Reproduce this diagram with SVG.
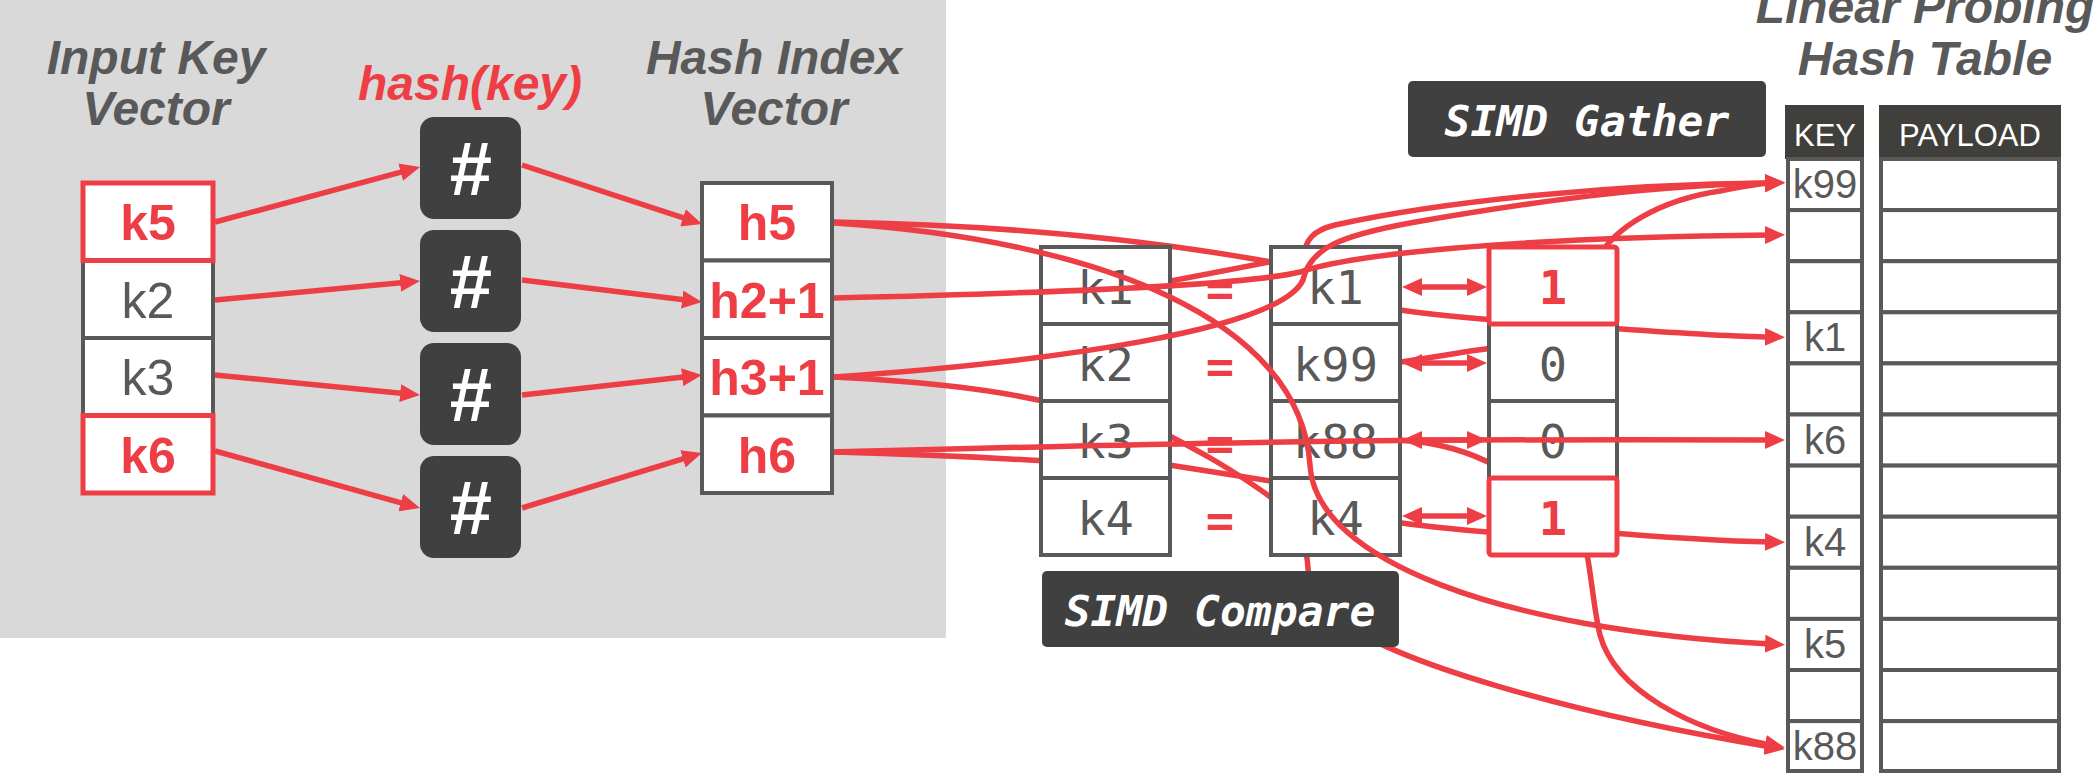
<svg xmlns="http://www.w3.org/2000/svg" width="2098" height="774" viewBox="0 0 2098 774">
<defs>
<style>
.ttl{font-family:"Liberation Sans",Arial,sans-serif;font-weight:bold;font-style:italic;font-size:48px;fill:#595959;text-anchor:middle}
.cell{fill:#fff;stroke:#595959;stroke-width:4}
.rcell{fill:#fff;stroke:#EE3E45;stroke-width:5}
.hb{fill:#404040}
.vt{font-family:"Liberation Sans",Arial,sans-serif;font-size:50px;text-anchor:middle;fill:#595959}
.vb{font-weight:bold;fill:#EE3E45}
.hash{font-family:"Liberation Sans",Arial,sans-serif;font-weight:bold;font-size:76px;fill:#fff;text-anchor:middle}
.mono{font-family:"DejaVu Sans Mono","Liberation Mono",monospace;font-size:47px;text-anchor:middle;fill:#595959}
.mb{font-weight:bold;fill:#EE3E45}
.lbl{font-family:"DejaVu Sans Mono","Liberation Mono",monospace;font-weight:bold;font-style:italic;font-size:43px;fill:#fff;text-anchor:middle}
.tk{font-family:"Liberation Sans",Arial,sans-serif;font-size:40px;fill:#595959;text-anchor:middle}
.th{font-family:"Liberation Sans",Arial,sans-serif;font-size:31px;fill:#fff;text-anchor:middle}
.hdr{fill:#403F3C}
.ln{fill:none;stroke:#EE3E45;stroke-width:5.5}
.arr{marker-end:url(#ah)}
.dbl{marker-start:url(#ah);marker-end:url(#ah)}
</style>
<marker id="ah" viewBox="0 0 20 18" markerWidth="20" markerHeight="18" refX="6" refY="9" orient="auto-start-reverse" markerUnits="userSpaceOnUse"><path d="M0,0 L20,9 L0,18 z" fill="#EE3E45"/></marker>
</defs>

<rect id="background" x="0" y="0" width="946" height="638" fill="#D9D9D9"/>

<g id="titles">
<text class="ttl" x="156" y="74">Input Key</text>
<text class="ttl" x="156" y="125">Vector</text>
<text class="ttl" x="470" y="100" style="fill:#EE3E45">hash(key)</text>
<text class="ttl" x="774" y="74">Hash Index</text>
<text class="ttl" x="774" y="125">Vector</text>
<text class="ttl" x="1925" y="23">Linear Probing</text>
<text class="ttl" x="1925" y="75">Hash Table</text>
</g>

<g id="connectors-hash">
<path class="ln arr" d="M215,222 L406.5,170.6"/>
<path class="ln arr" d="M215,300 L406.1,282.3"/>
<path class="ln arr" d="M215,375 L406.1,393.7"/>
<path class="ln arr" d="M215,451 L406.5,504.3"/>
<path class="ln arr" d="M522,165 L688.7,219.7"/>
<path class="ln arr" d="M522,280 L688.1,300.3"/>
<path class="ln arr" d="M522,395 L688.1,376.5"/>
<path class="ln arr" d="M522,508 L688.6,457.1"/>
</g>

<g id="in-k2"><rect class="cell" x="83" y="260.5" width="130" height="77.5"/><text class="vt" x="148" y="317.5">k2</text></g>
<g id="in-k3"><rect class="cell" x="83" y="338" width="130" height="77.5"/><text class="vt" x="148" y="395">k3</text></g>
<g id="in-k5"><rect class="rcell" x="83" y="183" width="130" height="77.5"/><text class="vt vb" x="148" y="240">k5</text></g>
<g id="in-k6"><rect class="rcell" x="83" y="415.5" width="130" height="77.5"/><text class="vt vb" x="148" y="472.5">k6</text></g>

<g id="hash-1"><rect class="hb" x="420" y="117" width="101" height="102" rx="14"/><text class="hash" x="471" y="195">#</text></g>
<g id="hash-2"><rect class="hb" x="420" y="230" width="101" height="102" rx="14"/><text class="hash" x="471" y="308">#</text></g>
<g id="hash-3"><rect class="hb" x="420" y="343" width="101" height="102" rx="14"/><text class="hash" x="471" y="421">#</text></g>
<g id="hash-4"><rect class="hb" x="420" y="456" width="101" height="102" rx="14"/><text class="hash" x="471" y="534">#</text></g>

<g id="hi-h5"><rect class="cell" x="702" y="183" width="130" height="77.5"/><text class="vt vb" x="767" y="240">h5</text></g>
<g id="hi-h2"><rect class="cell" x="702" y="260.5" width="130" height="77.5"/><text class="vt vb" x="767" y="317.5">h2+1</text></g>
<g id="hi-h3"><rect class="cell" x="702" y="338" width="130" height="77.5"/><text class="vt vb" x="767" y="395">h3+1</text></g>
<g id="hi-h6"><rect class="cell" x="702" y="415.5" width="130" height="77.5"/><text class="vt vb" x="767" y="472.5">h6</text></g>

<g id="connectors-under">
<path class="ln arr" d="M834,222 C1000,225 1150,240 1271,262 C1330,273 1370,300 1400,310 C1440,316 1480,319 1520,322 C1620,328 1700,336 1771,337"/>
<path class="ln" d="M1150,285 L1290,258"/>
<path class="ln arr" d="M1303,262 C1304,238 1315,230 1335,225 C1450,200 1620,184 1771,183"/>
<path class="ln" d="M834,377 C930,382 1000,390 1060,405"/>
<path class="ln" d="M1150,426 C1190,446 1240,472 1290,512 C1303,530 1308,550 1309,585"/>
<path class="ln arr" d="M1340,620 C1390,660 1560,712 1771,747"/>
<path class="ln" d="M834,452 C950,455 1000,458 1060,462"/>
<path class="ln" d="M1150,462 C1200,470 1240,476 1290,484"/>
<path class="ln" d="M1380,520 C1420,526 1460,530 1500,533"/>
<path class="ln arr" d="M1600,532 C1660,537 1720,541 1771,542"/>
<path class="ln arr" d="M1596,262 C1612,228 1660,200 1720,191 C1740,187 1755,184 1771,183"/>
<path class="ln" d="M1500,347 C1460,352 1430,358 1395,363"/>
<path class="ln" d="M1500,468 C1470,452 1440,442 1395,440"/>
<path class="ln arr" d="M1586,548 C1592,580 1594,610 1600,635 C1615,690 1690,730 1771,745"/>
</g>

<g id="cmp-left-k1"><rect class="cell" x="1041" y="247" width="129" height="77"/><text class="mono" x="1105.5" y="304">k1</text></g>
<g id="cmp-left-k2"><rect class="cell" x="1041" y="324" width="129" height="77"/><text class="mono" x="1105.5" y="381">k2</text></g>
<g id="cmp-left-k3"><rect class="cell" x="1041" y="401" width="129" height="77"/><text class="mono" x="1105.5" y="458">k3</text></g>
<g id="cmp-left-k4"><rect class="cell" x="1041" y="478" width="129" height="77"/><text class="mono" x="1105.5" y="535">k4</text></g>

<g id="cmp-equals">
<text class="mono mb" x="1220" y="306">=</text>
<text class="mono mb" x="1220" y="383">=</text>
<text class="mono mb" x="1220" y="460">=</text>
<text class="mono mb" x="1220" y="537">=</text>
</g>

<g id="cmp-right-k1"><rect class="cell" x="1271" y="247" width="129" height="77"/><text class="mono" x="1335.5" y="304">k1</text></g>
<g id="cmp-right-k99"><rect class="cell" x="1271" y="324" width="129" height="77"/><text class="mono" x="1335.5" y="381">k99</text></g>
<g id="cmp-right-k88"><rect class="cell" x="1271" y="401" width="129" height="77"/><text class="mono" x="1335.5" y="458">k88</text></g>
<g id="cmp-right-k4"><rect class="cell" x="1271" y="478" width="129" height="77"/><text class="mono" x="1335.5" y="535">k4</text></g>

<g id="res-2"><rect class="cell" x="1489" y="324" width="128" height="77"/><text class="mono" x="1553" y="381">0</text></g>
<g id="res-3"><rect class="cell" x="1489" y="401" width="128" height="77"/><text class="mono" x="1553" y="458">0</text></g>
<g id="res-1"><rect class="rcell" x="1489" y="247" width="128" height="77" rx="3"/><text class="mono mb" x="1553" y="304">1</text></g>
<g id="res-4"><rect class="rcell" x="1489" y="478" width="128" height="77" rx="3"/><text class="mono mb" x="1553" y="535">1</text></g>

<g id="simd-compare"><rect class="hb" x="1042" y="571" width="357" height="76" rx="5"/><text class="lbl" x="1220" y="626">SIMD Compare</text></g>
<g id="simd-gather"><rect class="hb" x="1408" y="81" width="358" height="76" rx="5"/><text class="lbl" x="1587" y="136">SIMD Gather</text></g>

<g id="hash-table">
<rect class="hdr" x="1785" y="105" width="79" height="54"/>
<text class="th" x="1825" y="146">KEY</text>
<rect class="hdr" x="1879" y="105" width="182" height="54"/>
<text class="th" x="1970" y="146">PAYLOAD</text>
<g id="table-keys">
<rect class="cell" x="1788" y="159" width="74" height="51.1"/>
<rect class="cell" x="1788" y="210.1" width="74" height="51.1"/>
<rect class="cell" x="1788" y="261.2" width="74" height="51.1"/>
<rect class="cell" x="1788" y="312.3" width="74" height="51.1"/>
<rect class="cell" x="1788" y="363.4" width="74" height="51.1"/>
<rect class="cell" x="1788" y="414.5" width="74" height="51.1"/>
<rect class="cell" x="1788" y="465.6" width="74" height="51.1"/>
<rect class="cell" x="1788" y="516.7" width="74" height="51.1"/>
<rect class="cell" x="1788" y="567.8" width="74" height="51.1"/>
<rect class="cell" x="1788" y="618.9" width="74" height="51.1"/>
<rect class="cell" x="1788" y="670" width="74" height="51.1"/>
<rect class="cell" x="1788" y="721.1" width="74" height="49.9"/>
<text class="tk" x="1825" y="198">k99</text>
<text class="tk" x="1825" y="351">k1</text>
<text class="tk" x="1825" y="453.5">k6</text>
<text class="tk" x="1825" y="555.7">k4</text>
<text class="tk" x="1825" y="657.9">k5</text>
<text class="tk" x="1825" y="760">k88</text>
</g>
<g id="table-payload">
<rect class="cell" x="1881" y="159" width="178" height="51.1"/>
<rect class="cell" x="1881" y="210.1" width="178" height="51.1"/>
<rect class="cell" x="1881" y="261.2" width="178" height="51.1"/>
<rect class="cell" x="1881" y="312.3" width="178" height="51.1"/>
<rect class="cell" x="1881" y="363.4" width="178" height="51.1"/>
<rect class="cell" x="1881" y="414.5" width="178" height="51.1"/>
<rect class="cell" x="1881" y="465.6" width="178" height="51.1"/>
<rect class="cell" x="1881" y="516.7" width="178" height="51.1"/>
<rect class="cell" x="1881" y="567.8" width="178" height="51.1"/>
<rect class="cell" x="1881" y="618.9" width="178" height="51.1"/>
<rect class="cell" x="1881" y="670" width="178" height="51.1"/>
<rect class="cell" x="1881" y="721.1" width="178" height="49.9"/>
</g>
</g>

<g id="connectors-over">
<path class="ln arr" d="M834,223 C1100,240 1300,320 1310,465 C1315,560 1500,630 1771,644"/>
<path class="ln arr" d="M834,298 C1100,292 1250,284 1300,272 C1350,255 1500,238 1771,235"/>
<path class="ln arr" d="M834,377 C1050,362 1280,330 1303,280 C1310,248 1340,236 1410,223 C1530,202 1650,185 1771,183"/>
<path class="ln arr" d="M834,452 C1100,445 1350,438 1771,440"/>
<path class="ln dbl" d="M1416,287 L1473,287"/>
<path class="ln dbl" d="M1416,363 L1473,363"/>
<path class="ln dbl" d="M1416,440 L1473,440"/>
<path class="ln dbl" d="M1416,516 L1473,516"/>
</g>
</svg>
